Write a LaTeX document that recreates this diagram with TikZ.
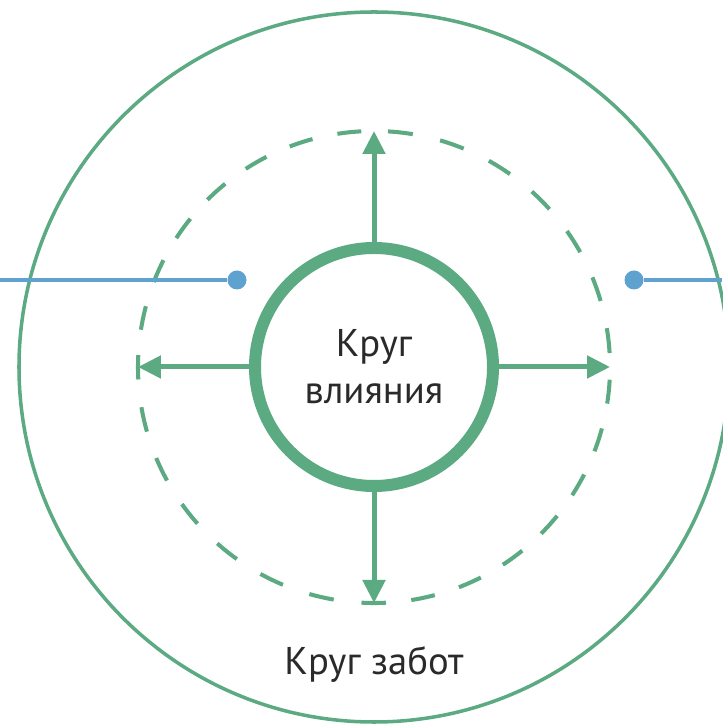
\documentclass[tikz,border=0pt]{standalone}
\usepackage{fontspec}
\setmainfont{PT Sans}
\usepackage{tikz}
\usetikzlibrary{arrows.meta,positioning}
\definecolor{leaf}{HTML}{5BAA82}
\definecolor{lake}{HTML}{5FA2D0}
\definecolor{ink}{HTML}{2A2A2A}

\begin{document}
\begin{tikzpicture}[every node/.style={font=\fontsize{11}{13.4}\selectfont,align=center,text=ink},ring/.style={circle,draw=leaf,inner sep=0pt},push/.style={-{Triangle[length=0.23cm,width=0.22cm]},line width=0.05cm,leaf},quarter/.style={draw=leaf,line width=1.15pt},wire/.style={draw=lake,line width=0.035cm},pin/.style={circle,fill=lake,inner sep=0pt,minimum size=0.19cm}]
\useasboundingbox (-3.74,-3.58) rectangle (3.48,3.67);
\node[ring,line width=1pt,minimum size=7.1cm] (concern) at (0,0) {};
\node[circle,inner sep=0pt,outer sep=0pt,minimum size=4.72cm] (reach) at (0,0) {};
\node[ring,line width=0.12cm,minimum size=2.38cm] (influence) at (0,0) {Круг\\влияния};
\node (concernlabel) at (0,-2.97) {Круг забот};
% dashed circle, one quarter at a time
\draw[quarter,dash pattern=on 0.25cm off 0.2796cm,dash phase=0.3898cm] (reach.east) arc[start angle=0,end angle=90,radius=2.36cm];
\draw[quarter,dash pattern=on 0.24cm off 0.2543cm,dash phase=0.3671cm] (reach.north) arc[start angle=90,end angle=180,radius=2.36cm];
\draw[quarter,dash pattern=on 0.25cm off 0.2796cm,dash phase=0.125cm] (reach.west) arc[start angle=180,end angle=270,radius=2.36cm];
\draw[quarter,dash pattern=on 0.24cm off 0.2543cm,dash phase=0.12cm] (reach.south) arc[start angle=270,end angle=360,radius=2.36cm];
\draw[push] (influence.north)--(reach.north);
\draw[push] (influence.west)--(reach.west);
\draw[push] (influence.east)--(reach.east);
\draw[push] (influence.south)--(reach.south);
% blue markers
\node[pin] (dotl) at (-1.37,0.87) {};
\node[pin] (dotr) at (2.60,0.87) {};
\coordinate (edgel) at (-3.74,0.87);
\coordinate (edger) at (3.48,0.87);
\draw[wire] (edgel)--(dotl);
\draw[wire] (dotr)--(edger);
\end{tikzpicture}
\end{document}
